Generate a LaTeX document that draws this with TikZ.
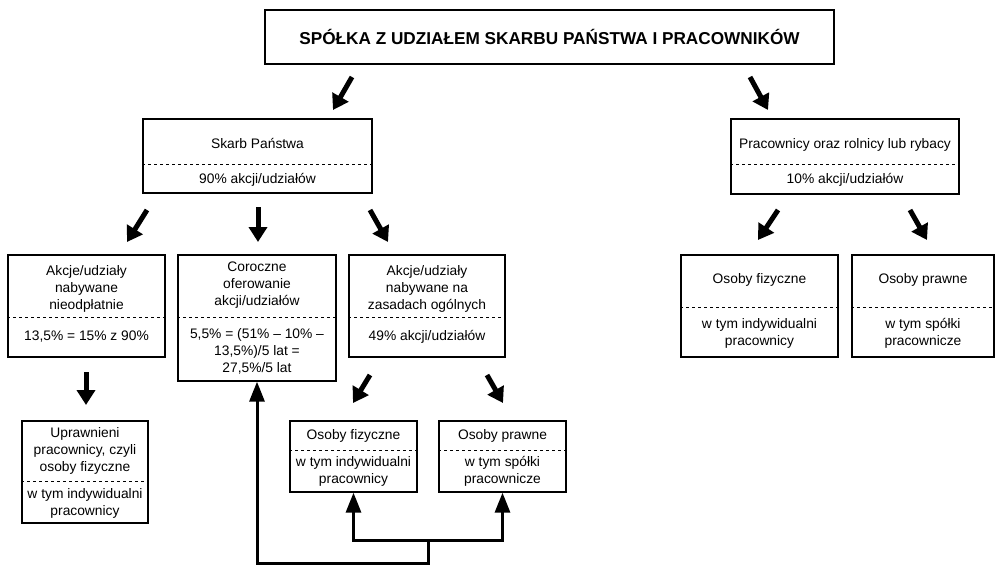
\documentclass[tikz,border=0pt]{standalone}
\usepackage{fontspec}
\setmainfont{Liberation Sans}
\usetikzlibrary{arrows.meta}

\tikzset{
  ramka/.style={draw, line width=1.3pt, inner sep=0pt},
  napis/.style={align=center, inner sep=0pt, font=\fontsize{13.8}{17}\selectfont},
  kreski/.style={line width=0.9pt, dash pattern=on 3pt off 3pt},
  strzalka/.style={line width=5pt, -{Triangle[length=15pt,width=18pt]}},
  linia/.style={line width=3pt, -{Triangle[length=20pt,width=15pt]}}
}

\begin{document}
\begin{tikzpicture}[x=1pt,y=-1pt]
\useasboundingbox (0,0) rectangle (997,568);
% tytul
\node[ramka, minimum width=569pt, minimum height=54pt, font=\bfseries\fontsize{17.2}{20}\selectfont] (spolka) at (549.5,37) {SPÓŁKA Z UDZIAŁEM SKARBU PAŃSTWA I PRACOWNIKÓW};
% ramki
\node[ramka, minimum width=229pt, minimum height=74pt] (skarb) at (257.5,156) {};
\node[ramka, minimum width=228pt, minimum height=75pt] (pracownicy) at (845,156.5) {};
\node[ramka, minimum width=157pt, minimum height=102pt] (nieodpl) at (86.5,306) {};
\node[ramka, minimum width=158pt, minimum height=126pt] (coroczne) at (257,318) {};
\node[ramka, minimum width=156pt, minimum height=102pt] (ogolne) at (427,306) {};
\node[ramka, minimum width=157pt, minimum height=102pt] (fizyczneP) at (759.5,306) {};
\node[ramka, minimum width=142pt, minimum height=102pt] (prawneP) at (923,306) {};
\node[ramka, minimum width=126pt, minimum height=102pt] (uprawnieni) at (85,472) {};
\node[ramka, minimum width=127pt, minimum height=71pt] (fizyczneL) at (353.5,456.5) {};
\node[ramka, minimum width=127pt, minimum height=71pt] (prawneL) at (502.5,456.5) {};
% podzialy
\foreach \r/\y in {skarb/164,pracownicy/164,nieodpl/317,coroczne/317,ogolne/317,fizyczneP/307,prawneP/307,uprawnieni/481,fizyczneL/450,prawneL/450}
  \draw[kreski] (\r.west |- 0,\y) -- (\r.east |- 0,\y);
% teksty
\node[napis] (skarbG) at (257.5,143) {Skarb Państwa};
\node[napis] (skarbD) at (257.5,180) {90\% akcji/udziałów};
\node[napis] (pracownicyG) at (845,145) {Pracownicy oraz rolnicy lub rybacy};
\node[napis] (pracownicyD) at (845,180) {10\% akcji/udziałów};
\node[napis] (nieodplG) at (86.5,288.5) {Akcje/udziały\\nabywane\\nieodpłatnie};
\node[napis] (nieodplD) at (86.5,337) {13,5\% = 15\% z 90\%};
\node[napis] (coroczneG) at (257,285) {Coroczne\\oferowanie\\akcji/udziałów};
\node[napis] (coroczneD) at (257,351) {5,5\% = (51\% – 10\% –\\13,5\%)/5 lat =\\27,5\%/5 lat};
\node[napis] (ogolneG) at (427,288.5) {Akcje/udziały\\nabywane na\\zasadach ogólnych};
\node[napis] (ogolneD) at (427,337) {49\% akcji/udziałów};
\node[napis] (fizycznePG) at (759.5,280) {Osoby fizyczne};
\node[napis] (fizycznePD) at (759.5,333.5) {w tym indywidualni\\pracownicy};
\node[napis] (prawnePG) at (923,280) {Osoby prawne};
\node[napis] (prawnePD) at (923,333.5) {w tym spółki\\pracownicze};
\node[napis] (uprawnieniG) at (85,450.5) {Uprawnieni\\pracownicy, czyli\\osoby fizyczne};
\node[napis] (uprawnieniD) at (85,503.5) {w tym indywidualni\\pracownicy};
\node[napis] (fizyczneLG) at (353.5,436) {Osoby fizyczne};
\node[napis] (fizyczneLD) at (353.5,471.5) {w tym indywidualni\\pracownicy};
\node[napis] (prawneLG) at (502.5,436) {Osoby prawne};
\node[napis] (prawneLD) at (502.5,471.5) {w tym spółki\\pracownicze};
% strzalki
\foreach \n/\xa/\ya/\xb/\yb in {t1/352/77/333/110, t2/750/77/768/110,
    s1/147/210/127/242, s2/258/207/258/242, s3/370/210/388/242,
    p1/778/210/758/240, p2/910/210/927/240, a1/86/372/86/405,
    c1/370/375/353/403, c2/487/375/503/403}{
  \coordinate (\n-a) at (\xa,\ya);
  \coordinate (\n-b) at (\xb,\yb);
  \draw[strzalka] (\n-a) -- (\n-b);
}
% powrot do ramki corocznej
\coordinate (wezel) at (428,540);
\coordinate (dol) at (428,563);
\draw[linia] (wezel) -| (fizyczneL.south);
\draw[linia] (wezel) -| (prawneL.south);
\draw[linia] (wezel) -- (dol) -| (coroczne.south);
\end{tikzpicture}
\end{document}
